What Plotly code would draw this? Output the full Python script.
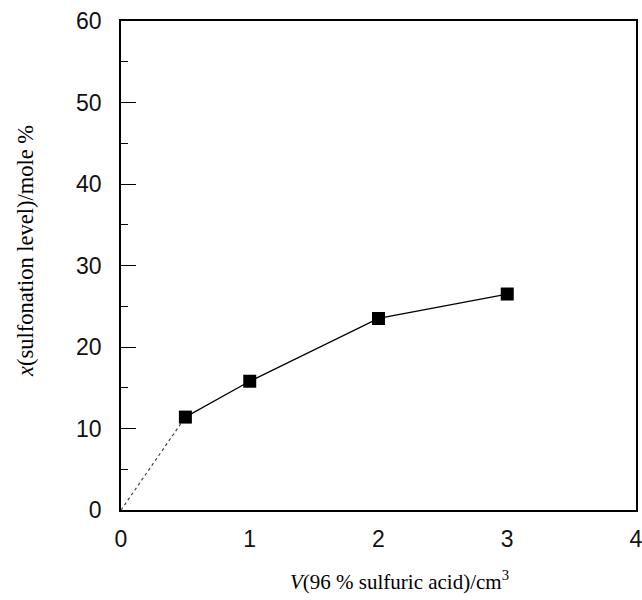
import plotly.graph_objects as go

# Data
volume_cm3 = [0.5, 1.0, 2.0, 3.0]
sulfonation_pct = [11.4, 15.8, 23.5, 26.5]
extrap_x = [0.0, 0.5]
extrap_y = [0.0, 11.4]

x_ticks = [0, 1, 2, 3, 4]
y_ticks = [0, 10, 20, 30, 40, 50, 60]

fig = go.Figure()
fig.add_trace(go.Scatter(
    x=extrap_x, y=extrap_y, mode="lines",
    line=dict(color="#444", width=1.2, dash="dot"),
    showlegend=False, hoverinfo="skip"))
fig.add_trace(go.Scatter(
    x=volume_cm3, y=sulfonation_pct, mode="lines+markers",
    line=dict(color="black", width=1.3),
    marker=dict(symbol="square", size=13, color="black"),
    showlegend=False))

tick_font = dict(family="Liberation Sans", size=23, color="#111")

fig.update_xaxes(
    range=[0, 4], tickvals=x_ticks, ticktext=[str(v) for v in x_ticks],
    showgrid=False, zeroline=False, showline=True, linecolor="black",
    linewidth=1.6, mirror=True, ticks="", tickfont=tick_font,
    ticklabelstandoff=8, automargin=False, ticklabeloverflow="allow")
fig.update_yaxes(
    range=[0, 60], tickvals=y_ticks, ticktext=[str(v) for v in y_ticks],
    showgrid=False, zeroline=False, showline=True, linecolor="black",
    linewidth=1.6, mirror=True, ticks="inside", ticklen=15, tickwidth=1.3,
    tickcolor="black", tickfont=tick_font, ticklabelstandoff=13,
    automargin=False, ticklabeloverflow="allow",
    minor=dict(dtick=5, ticks="inside", ticklen=7, tickwidth=1.2, tickcolor="black"))

fig.add_annotation(
    text="<i>V</i>(96 % sulfuric acid)/cm<sup>3</sup>",
    xref="paper", yref="paper", x=0.54, y=-0.112, xanchor="center", yanchor="top",
    showarrow=False, font=dict(family="Liberation Serif", size=21, color="black"))
fig.add_annotation(
    text="<i>x</i>(sulfonation level)/mole %",
    xref="paper", yref="paper", x=-0.184, y=0.53, xanchor="center", yanchor="middle",
    textangle=-90, showarrow=False,
    font=dict(family="Liberation Serif", size=22.5, color="black"))

fig.update_layout(
    width=642, height=600,
    margin=dict(l=121, r=6, t=21, b=90),
    paper_bgcolor="white", plot_bgcolor="white")

fig.write_html("out.html", config={"displayModeBar": False},
               post_script="document.body.style.margin='0';document.body.style.overflow='hidden';")
